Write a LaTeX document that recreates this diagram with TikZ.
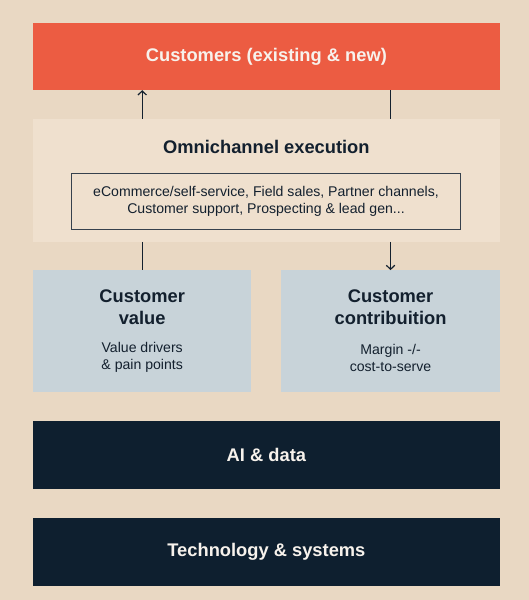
\documentclass[tikz,border=0pt]{standalone}
\usepackage{fontspec}
\setmainfont{Liberation Sans}
\usetikzlibrary{arrows.meta}
\definecolor{bg}{HTML}{E9D8C3}
\definecolor{orangec}{HTML}{EC5C42}
\definecolor{omnic}{HTML}{EFE0CE}
\definecolor{bluec}{HTML}{C8D3D9}
\definecolor{navyc}{HTML}{0E1F2F}
\definecolor{inkc}{HTML}{13202E}
\definecolor{lightc}{HTML}{F7F2EC}
\tikzset{
  box/.style={rectangle, inner sep=0pt, draw=none},
  ttl/.style={font=\fontsize{18.3}{21.5}\selectfont\bfseries, text=inkc, align=center, inner sep=0pt},
  sub/.style={font=\fontsize{14.1}{17}\selectfont, text=inkc, align=center, inner sep=0pt},
  wttl/.style={font=\fontsize{18.3}{21.5}\selectfont\bfseries, text=lightc},
  conn/.style={draw=inkc, line width=1.2pt},
  arr/.style={conn, -{Straight Barb[length=4pt,width=8.5pt,line width=1.2pt]}}
}
\begin{document}
\begin{tikzpicture}[x=1pt,y=-1pt]
\fill[bg] (0,0) rectangle (529,600);
\useasboundingbox (0,0) rectangle (529,600);
\node[box, fill=orangec, minimum width=466.6pt, minimum height=67pt, wttl] (cust) at (266.4,56.5) {Customers (existing \& new)};
\node[box, fill=omnic, minimum width=466.6pt, minimum height=122.7pt] (omni) at (266.4,180.35) {};
\node[ttl] (omnit) at (266.4,147) {Omnichannel execution};
\node[box, draw=inkc!85, line width=1pt, minimum width=389.7pt, minimum height=56pt, sub] (chan) at (266,201) {eCommerce/self-service, Field sales, Partner channels,\\Customer support, Prospecting \& lead gen...};
\node[box, fill=bluec, minimum width=218.2pt, minimum height=122pt] (val) at (142.2,331.3) {};
\node[box, fill=bluec, minimum width=218.3pt, minimum height=122pt] (con) at (390.55,331.3) {};
\node[ttl] (valt) at (142.2,307) {Customer\\value};
\node[sub] (vals) at (142.2,357.5) {Value drivers\\\& pain points};
\node[ttl] (cont) at (390.55,307) {Customer\\contribuition};
\node[sub] (cons) at (390.55,357.5) {Margin -/-\\cost-to-serve};
\node[box, fill=navyc, minimum width=466.6pt, minimum height=67.4pt, wttl] (ai) at (266.4,455) {AI \& data};
\node[box, fill=navyc, minimum width=466.6pt, minimum height=68pt, wttl] (tech) at (266.4,551.5) {Technology \& systems};
\draw[arr] (omni.north -| val) -- (cust.south -| val);
\draw[conn] (cust.south -| con) -- (omni.north -| con);
\draw[conn] (omni.south -| val) -- (val.north);
\draw[arr] (omni.south -| con) -- (con.north);
\end{tikzpicture}
\end{document}
